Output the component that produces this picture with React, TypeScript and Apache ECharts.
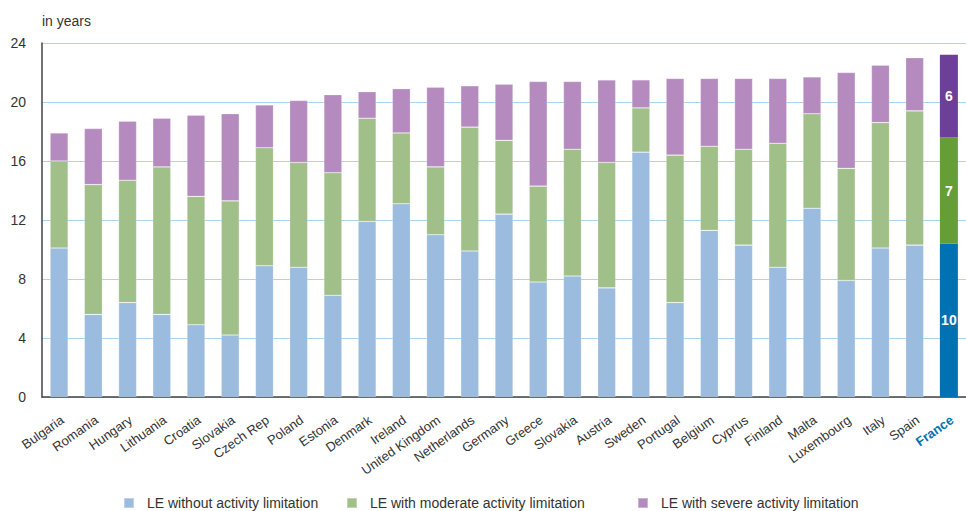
import React, { useEffect, useRef } from "react";
import * as echarts from "echarts";

const countries = [
  "Bulgaria", "Romania", "Hungary", "Lithuania", "Croatia", "Slovakia", "Czech Rep",
  "Poland", "Estonia", "Denmark", "Ireland", "United Kingdom", "Netherlands", "Germany",
  "Greece", "Slovakia", "Austria", "Sweden", "Portugal", "Belgium", "Cyprus", "Finland",
  "Malta", "Luxembourg", "Italy", "Spain", "France",
];

const withoutLimitation = [
  10.1, 5.6, 6.4, 5.6, 4.9, 4.2, 8.9, 8.8, 6.9, 11.9, 13.1, 11.0, 9.9, 12.4,
  7.8, 8.2, 7.4, 16.6, 6.4, 11.3, 10.3, 8.8, 12.8, 7.9, 10.1, 10.3, 10.4,
];
const moderateLimitation = [
  5.9, 8.8, 8.3, 10.0, 8.7, 9.1, 8.0, 7.1, 8.3, 7.0, 4.8, 4.6, 8.4, 5.0,
  6.5, 8.6, 8.5, 3.0, 10.0, 5.7, 6.5, 8.4, 6.4, 7.6, 8.5, 9.1, 7.2,
];
const severeLimitation = [
  1.9, 3.8, 4.0, 3.3, 5.5, 5.9, 2.9, 4.2, 5.3, 1.8, 3.0, 5.4, 2.8, 3.8,
  7.1, 4.6, 5.6, 1.9, 5.2, 4.6, 4.8, 4.4, 2.5, 6.5, 3.9, 3.6, 5.6,
];

const seriesNames = [
  "LE without activity limitation",
  "LE with moderate activity limitation",
  "LE with severe activity limitation",
];
const lightColors = ["#9bbcdf", "#a0bf89", "#b58bbf"];
const highlightColors = ["#0071b2", "#659e36", "#6c3f98"];
const highlightCountry = "France";
const legendLefts = [118, 341, 632];

const FONT = '"Liberation Sans Narrow", "Arial Narrow", "Liberation Sans", Arial, sans-serif';

export default function App() {
  const ref = useRef<HTMLDivElement>(null);

  useEffect(() => {
    if (!ref.current) return;
    const chart = echarts.init(ref.current, undefined, { renderer: "svg" });
    const allSeries = [withoutLimitation, moderateLimitation, severeLimitation];

    const series = allSeries.map((values, si) => ({
      name: seriesNames[si],
      type: "bar",
      stack: "le",
      barWidth: 18,
      itemStyle: { color: lightColors[si], borderColor: "rgba(255,255,255,0.35)", borderWidth: 0.6 },
      data: values.map((v, i) =>
        countries[i] === highlightCountry
          ? {
              value: v,
              itemStyle: { color: highlightColors[si], borderWidth: 0 },
              label: {
                show: true,
                position: "inside",
                color: "#ffffff",
                fontFamily: FONT,
                fontSize: 14,
                fontWeight: "bold",
                formatter: (p: any) => String(Math.round(p.value)),
              },
            }
          : v
      ),
    }));

    const legends = seriesNames.map((name, si) => ({
      data: [name],
      left: legendLefts[si],
      bottom: -4,
      itemWidth: 10,
      itemHeight: 10,
      icon: "rect",
      textStyle: {
        fontFamily: FONT,
        fontSize: 14,
        color: "#333333",
        padding: [0, 0, 0, 8],
      },
    }));

    chart.setOption({
      animation: false,
      backgroundColor: "#ffffff",
      textStyle: { fontFamily: FONT },
      grid: { left: 42, right: -1, top: 43, bottom: 114, containLabel: false },
      legend: legends,
      xAxis: {
        type: "category",
        data: countries,
        axisLine: { lineStyle: { color: "#444444", width: 1.5 } },
        axisTick: { show: false },
        axisLabel: {
          interval: 0,
          rotate: 35,
          margin: 17,
          verticalAlign: "top",
          lineHeight: 11,
          fontFamily: FONT,
          fontSize: 13,
          color: "#333333",
          formatter: (v: string) => (v === highlightCountry ? `{hl|${v}}` : v),
          rich: {
            hl: {
              fontFamily: FONT,
              fontSize: 13,
              lineHeight: 11,
              fontWeight: "bold",
              color: "#0071b2",
            },
          },
        },
      },
      yAxis: {
        type: "value",
        name: "in years",
        nameLocation: "end",
        nameGap: 15,
        nameTextStyle: {
          fontFamily: FONT,
          fontSize: 14,
          color: "#333333",
          align: "left",
        },
        min: 0,
        max: 24,
        interval: 4,
        axisLine: { show: true, lineStyle: { color: "#444444", width: 1.5 } },
        axisTick: { show: false },
        axisLabel: {
          margin: 16,
          fontFamily: FONT,
          fontSize: 14,
          color: "#333333",
        },
        splitLine: { lineStyle: { color: "#a8d6ef", width: 1 } },
      },
      series,
    });

    return () => chart.dispose();
  }, []);

  return (
    <div
      ref={ref}
      style={{ position: "fixed", left: 0, top: 0, width: 966, height: 511 }}
    />
  );
}
